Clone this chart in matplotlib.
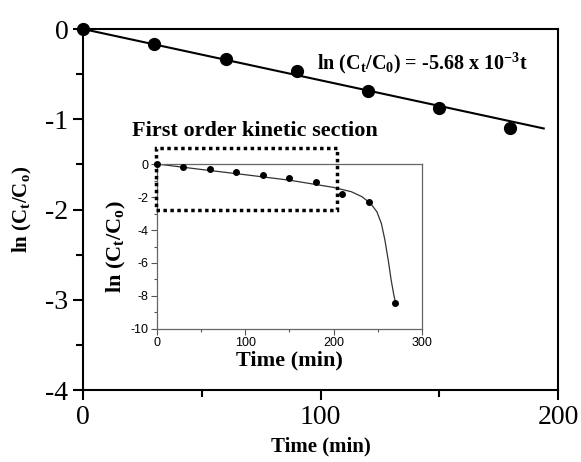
import numpy as np
import matplotlib
matplotlib.use("Agg")
import matplotlib.pyplot as plt
from matplotlib.patches import Rectangle
from matplotlib.ticker import MultipleLocator

# first order section (main plot)
t_main = [0, 30, 60, 90, 120, 150, 180]
ln_main = [0, -0.17, -0.33, -0.47, -0.69, -0.87, -1.10]
slope = -5.68e-3
fit_t = [0, 194]

# full run (inset)
t_all = [0, 30, 60, 90, 120, 150, 180, 210, 240, 270]
ln_all = [0, -0.17, -0.33, -0.47, -0.69, -0.87, -1.10, -1.80, -2.30, -8.40]
curve_t = [0, 50, 100, 150, 200, 220, 232, 242, 249, 254, 258, 262, 265, 268, 270]
curve_ln = [0, -0.33, -0.65, -0.98, -1.42, -1.68, -1.98, -2.4, -2.9, -3.6, -4.6, -5.9, -7.0, -7.9, -8.4]

plt.rcParams['font.family'] = 'Liberation Serif'
plt.rcParams['axes.unicode_minus'] = False
plt.rcParams['mathtext.fontset'] = 'custom'
plt.rcParams['mathtext.rm'] = 'Liberation Serif:bold'
plt.rcParams['mathtext.it'] = 'Liberation Serif:bold'
plt.rcParams['mathtext.bf'] = 'Liberation Serif:bold'

fig = plt.figure(figsize=(5.81, 4.62), dpi=100)
ax = fig.add_axes([0.1429, 0.1558, 0.8175, 0.7814])

fit_ln = [slope * t for t in fit_t]
ax.plot(fit_t, fit_ln, color='black', lw=1.5, zorder=2)
ax.plot(t_main, ln_main, 'o', color='black', ms=8.5, zorder=3, clip_on=False)
ax.set_xlim(0, 200)
ax.set_ylim(-4, 0)
ax.xaxis.set_major_locator(MultipleLocator(100))
ax.xaxis.set_minor_locator(MultipleLocator(50))
ax.yaxis.set_major_locator(MultipleLocator(1))
ax.yaxis.set_minor_locator(MultipleLocator(0.5))
ax.tick_params(which='both', direction='out', width=1.5, top=False, right=False, labelsize=20)
ax.tick_params(which='major', length=7)
ax.tick_params(which='minor', length=5)
for s in ax.spines.values():
    s.set_linewidth(1.5)
ax.set_xlabel('Time (min)', fontsize=15, fontweight='bold', labelpad=5)
ax.set_ylabel(r'ln ($\mathrm{C_t/C_o}$)', fontsize=15, fontweight='bold', labelpad=8)
ax.text(0.937, 0.905, r'ln ($\mathrm{C_t/C_0}$) = -5.68 x 10$^{\mathrm{-3}}$t',
        transform=ax.transAxes, ha='right', va='center', fontsize=14.5, fontweight='bold')

# inset with the whole degradation curve
ins = fig.add_axes([0.2702, 0.2879, 0.4561, 0.3571])
ins.plot(curve_t, curve_ln, color='#333333', lw=0.9, zorder=2)
ins.plot(t_all, ln_all, 'o', color='black', ms=4, zorder=3, clip_on=False)
ins.set_xlim(0, 300)
ins.set_ylim(-10, 0)
ins.xaxis.set_major_locator(MultipleLocator(100))
ins.xaxis.set_minor_locator(MultipleLocator(50))
ins.yaxis.set_major_locator(MultipleLocator(2))
ins.yaxis.set_minor_locator(MultipleLocator(1))
ins.tick_params(which='both', direction='out', top=False, right=False, labelsize=9,
                color='#555555', width=0.8)
ins.tick_params(which='major', length=4, pad=2)
ins.tick_params(which='minor', length=2.5)
for lab in ins.get_xticklabels() + ins.get_yticklabels():
    lab.set_fontfamily('Liberation Sans')
for s in ins.spines.values():
    s.set_linewidth(0.9)
    s.set_color('#666666')
ins.set_xlabel('Time (min)', fontsize=16, fontweight='bold', labelpad=1)
ins.set_ylabel(r'ln ($\mathrm{C_t/C_o}$)', fontsize=16, fontweight='bold', labelpad=2)

box = Rectangle((-1, -2.8), 205, 3.75, fill=False, ls=(0, (1, 1)), lw=2.5,
                ec='black', clip_on=False, zorder=4)
ins.add_patch(box)
ins.text(-0.095, 1.2, 'First order kinetic section', transform=ins.transAxes,
         ha='left', va='center', fontsize=16, fontweight='bold')

fig.savefig('out.png', dpi=100)
